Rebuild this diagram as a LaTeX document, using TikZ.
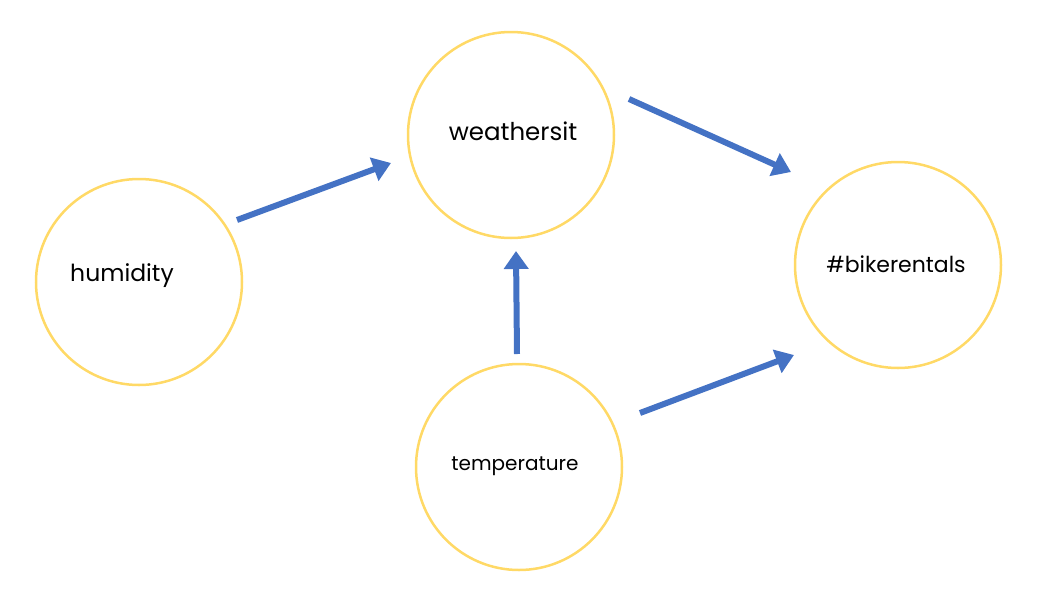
\documentclass[tikz,border=0pt]{standalone}
\usepackage{fontspec}
\setmainfont{Poppins}
\usetikzlibrary{arrows.meta}
\definecolor{nodeyellow}{HTML}{FFD966}
\definecolor{arrowblue}{HTML}{4472C4}
\tikzset{
  var/.style={circle, draw=nodeyellow, line width=2.5pt, minimum size=206pt, inner sep=0pt},
  lbl/.style={text=black},
  conn/.style={draw=arrowblue, line width=6pt, -{Triangle[length=18pt,width=24pt]}}
}
\begin{document}
\begin{tikzpicture}[x=1pt,y=-1pt]
\useasboundingbox (0,0) rectangle (1053,603);
\node[var] (weathersit) at (511,135) {};
\node[var] (humidity) at (139,282) {};
\node[var] (bikerentals) at (898,265) {};
\node[var] (temperature) at (519,467) {};
\node[lbl, font=\fontsize{24.5}{28}\selectfont] (tw) at (513,131) {weathersit};
\node[lbl, font=\fontsize{23.5}{28}\selectfont] (th) at (122,276) {humidity};
\node[lbl, font=\fontsize{22}{26}\selectfont] (tb) at (896,264) {\#bikerentals};
\node[lbl, font=\fontsize{20}{24}\selectfont] (tt) at (515,466) {temperature};
\coordinate (h1) at (237,220); \coordinate (h2) at (391,163);
\coordinate (w1) at (629,99); \coordinate (w2) at (791,172);
\coordinate (t1) at (517,354); \coordinate (t2) at (516,251);
\coordinate (b1) at (640,413); \coordinate (b2) at (794,355);
\draw[conn] (h1) -- (h2);
\draw[conn] (w1) -- (w2);
\draw[conn] (t1) -- (t2);
\draw[conn] (b1) -- (b2);
\end{tikzpicture}
\end{document}
